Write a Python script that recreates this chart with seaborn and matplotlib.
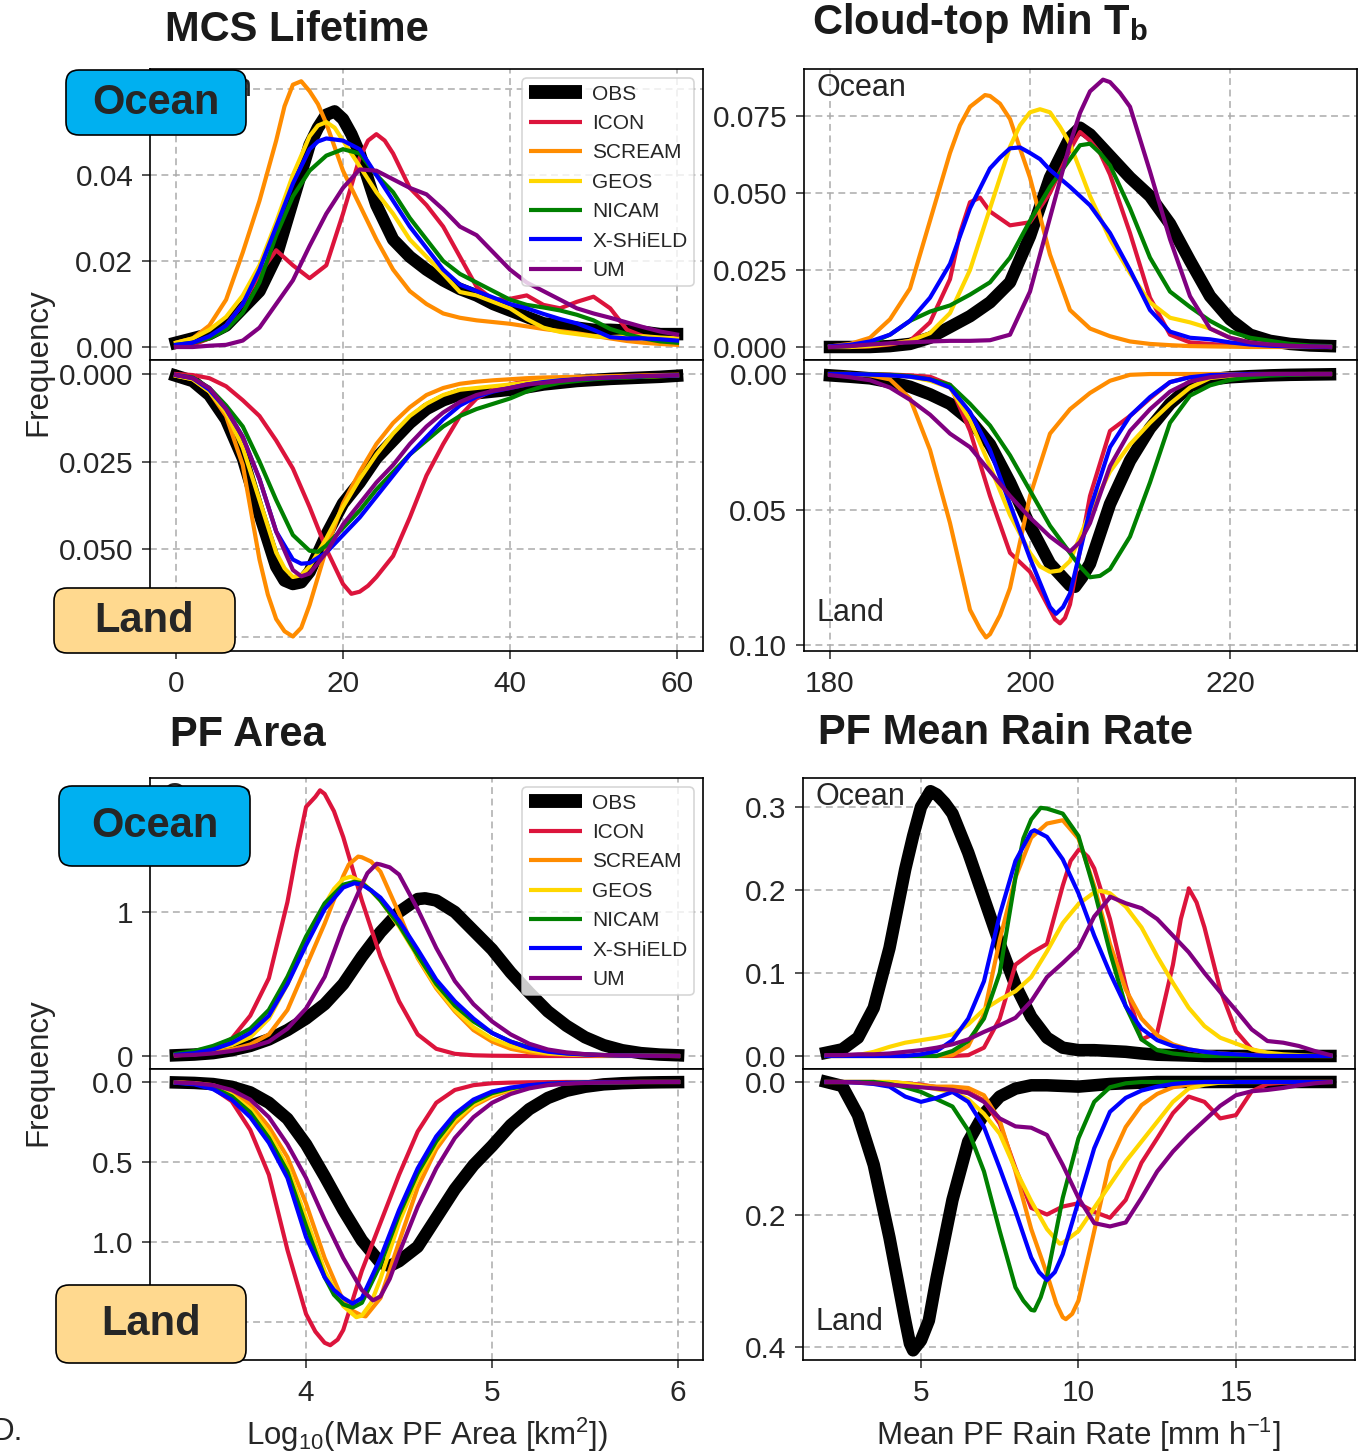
import matplotlib
matplotlib.use("Agg")
import matplotlib.pyplot as plt
from matplotlib.lines import Line2D
from matplotlib.patches import FancyBboxPatch
import numpy as np
import pandas as pd
import seaborn as sns

# ---------------------------------------------------------------- data
MODELS = ["OBS", "ICON", "SCREAM", "GEOS", "NICAM", "X-SHiELD", "UM"]
COLORS = {"OBS": "#000000", "ICON": "#DC143C", "SCREAM": "#FF8C00", "GEOS": "#FFD700",
          "NICAM": "#008000", "X-SHiELD": "#0000FF", "UM": "#800080"}

# MCS lifetime [h]
LIFETIME_X = list(range(0, 61, 2))
LIFETIME_OCEAN = {
    "OBS": [0.001, 0.002, 0.003, 0.005, 0.009, 0.013, 0.021, 0.034, 0.047, 0.054, 0.053, 0.045, 0.033, 0.025, 0.021, 0.018,
            0.0155, 0.0135, 0.012, 0.010, 0.0085, 0.007, 0.0055, 0.005, 0.0045, 0.004, 0.004, 0.0038, 0.0035, 0.003, 0.003],
    "ICON": [0.0, 0.0005, 0.002, 0.005, 0.010, 0.017, 0.0225, 0.019, 0.016, 0.019, 0.031, 0.044, 0.0495, 0.045, 0.037, 0.033,
             0.028, 0.021, 0.014, 0.011, 0.0112, 0.012, 0.0098, 0.009, 0.0105, 0.0117, 0.009, 0.004, 0.0025, 0.002, 0.002],
    "SCREAM": [0.001, 0.002, 0.005, 0.011, 0.022, 0.034, 0.048, 0.061, 0.0595, 0.052, 0.041, 0.033, 0.025, 0.018, 0.013, 0.010,
               0.0078, 0.0068, 0.0062, 0.0058, 0.0054, 0.0048, 0.0042, 0.0037, 0.0032, 0.0026, 0.002, 0.0014, 0.001, 0.0007, 0.0005],
    "GEOS": [0.001, 0.002, 0.004, 0.007, 0.012, 0.019, 0.029, 0.040, 0.049, 0.0523, 0.048, 0.042, 0.036, 0.031, 0.025, 0.021,
             0.017, 0.0128, 0.012, 0.0105, 0.009, 0.0065, 0.0045, 0.0035, 0.003, 0.0025, 0.0023, 0.0025, 0.0025, 0.0022, 0.002],
    "NICAM": [0.0005, 0.001, 0.002, 0.004, 0.008, 0.015, 0.026, 0.035, 0.041, 0.0445, 0.046, 0.045, 0.040, 0.036, 0.030, 0.025,
              0.020, 0.017, 0.015, 0.013, 0.011, 0.0098, 0.0092, 0.0085, 0.0075, 0.0062, 0.0042, 0.003, 0.002, 0.0013, 0.001],
    "X-SHiELD": [0.0005, 0.001, 0.0025, 0.005, 0.010, 0.018, 0.028, 0.038, 0.046, 0.0485, 0.048, 0.046, 0.040, 0.034, 0.028, 0.023,
                 0.018, 0.0145, 0.013, 0.0115, 0.010, 0.009, 0.0077, 0.0065, 0.0055, 0.004, 0.0023, 0.002, 0.002, 0.0018, 0.0015],
    "UM": [0.0, 0.0, 0.0003, 0.0005, 0.0015, 0.0045, 0.010, 0.0155, 0.0235, 0.031, 0.037, 0.0413, 0.041, 0.039, 0.037, 0.0355,
           0.032, 0.028, 0.026, 0.022, 0.018, 0.015, 0.013, 0.011, 0.009, 0.0078, 0.0068, 0.0057, 0.0046, 0.0036, 0.0029],
}
LIFETIME_OCEAN_EXTRA = {"OBS": [(17.0, 0.051), (19.0, 0.0548), (21.0, 0.0495)],
                        "SCREAM": [(13.0, 0.056), (15.0, 0.0618), (17.0, 0.0565)],
                        "ICON": [(23.0, 0.048), (25.0, 0.048)],
                        "GEOS": [(17.0, 0.0515), (19.0, 0.051)],
                        "X-SHiELD": [(17.0, 0.0478)]}
LIFETIME_LAND = {
    "OBS": [0.0005, 0.002, 0.006, 0.013, 0.024, 0.040, 0.055, 0.060, 0.0565, 0.046, 0.037, 0.031, 0.024, 0.019, 0.014, 0.010,
            0.0075, 0.0058, 0.0055, 0.005, 0.0045, 0.0038, 0.003, 0.0025, 0.002, 0.0017, 0.0014, 0.0012, 0.001, 0.0008, 0.0005],
    "ICON": [0.0, 0.0003, 0.0012, 0.0035, 0.0075, 0.012, 0.019, 0.027, 0.038, 0.050, 0.060, 0.0622, 0.058, 0.052, 0.041, 0.029,
             0.020, 0.012, 0.007, 0.0045, 0.003, 0.002, 0.0015, 0.0012, 0.001, 0.0008, 0.0007, 0.0006, 0.0005, 0.0004, 0.0003],
    "SCREAM": [0.0005, 0.0015, 0.005, 0.012, 0.026, 0.053, 0.070, 0.075, 0.066, 0.050, 0.037, 0.028, 0.020, 0.014, 0.0095, 0.006,
               0.004, 0.0028, 0.0022, 0.0018, 0.0015, 0.0012, 0.001, 0.0009, 0.0008, 0.0007, 0.0006, 0.0005, 0.0004, 0.0003, 0.0002],
    "GEOS": [0.0005, 0.0015, 0.005, 0.011, 0.021, 0.036, 0.051, 0.058, 0.055, 0.047, 0.038, 0.030, 0.023, 0.017, 0.012, 0.0085,
             0.006, 0.0045, 0.004, 0.0035, 0.003, 0.0025, 0.002, 0.0018, 0.0015, 0.0012, 0.001, 0.0009, 0.0008, 0.0006, 0.0005],
    "NICAM": [0.0003, 0.001, 0.004, 0.009, 0.015, 0.025, 0.036, 0.046, 0.0505, 0.049, 0.044, 0.039, 0.033, 0.028, 0.023, 0.019,
              0.015, 0.012, 0.010, 0.0085, 0.007, 0.005, 0.0035, 0.0025, 0.002, 0.0015, 0.0012, 0.001, 0.0008, 0.0006, 0.0005],
    "X-SHiELD": [0.0003, 0.0012, 0.0045, 0.010, 0.018, 0.030, 0.045, 0.053, 0.054, 0.051, 0.046, 0.041, 0.035, 0.029, 0.023, 0.018,
                 0.013, 0.009, 0.0065, 0.005, 0.004, 0.003, 0.0023, 0.0018, 0.0015, 0.0012, 0.001, 0.0008, 0.0006, 0.0005, 0.0004],
    "UM": [0.0003, 0.0012, 0.004, 0.010, 0.018, 0.030, 0.045, 0.056, 0.057, 0.051, 0.043, 0.037, 0.031, 0.026, 0.020, 0.015,
           0.011, 0.008, 0.006, 0.0048, 0.004, 0.003, 0.0025, 0.002, 0.0015, 0.0012, 0.001, 0.0008, 0.0006, 0.0005, 0.0004],
}
LIFETIME_LAND_EXTRA = {"OBS": [(13.0, 0.059), (15.0, 0.0595)],
                       "ICON": [(21.0, 0.0628), (23.0, 0.0605)],
                       "SCREAM": [(11.0, 0.063), (13.0, 0.0735), (15.0, 0.0725)],
                       "GEOS": [(13.0, 0.0555), (15.0, 0.0575)],
                       "UM": [(15.0, 0.0578)], "X-SHiELD": [(15.0, 0.0542)], "NICAM": [(17.0, 0.0508)]}

# Cloud-top minimum brightness temperature [K]
TB_X = list(range(180, 231, 2))
TB_OCEAN = {
    "OBS": [0.0, 0.0, 0.0, 0.0003, 0.001, 0.003, 0.0065, 0.010, 0.0145, 0.021, 0.036, 0.055, 0.068, 0.069, 0.062, 0.055,
            0.049, 0.040, 0.028, 0.0165, 0.009, 0.004, 0.002, 0.001, 0.0005, 0.0003],
    "ICON": [0.0, 0.0, 0.0002, 0.0008, 0.002, 0.008, 0.022, 0.047, 0.044, 0.0395, 0.0405, 0.050, 0.064, 0.067, 0.056, 0.037,
             0.016, 0.004, 0.0015, 0.001, 0.0005, 0.0003, 0.0002, 0.0001, 0.0, 0.0],
    "SCREAM": [0.0002, 0.001, 0.003, 0.009, 0.019, 0.041, 0.063, 0.078, 0.0815, 0.074, 0.055, 0.030, 0.012, 0.006, 0.0035, 0.0018,
               0.001, 0.0006, 0.0003, 0.0002, 0.0001, 0.0, 0.0, 0.0, 0.0, 0.0],
    "GEOS": [0.0, 0.0, 0.0003, 0.001, 0.002, 0.0045, 0.011, 0.025, 0.045, 0.065, 0.0762, 0.0762, 0.066, 0.049, 0.035, 0.024,
             0.0145, 0.0095, 0.008, 0.006, 0.003, 0.0015, 0.0008, 0.0004, 0.0002, 0.0],
    "NICAM": [0.0, 0.0003, 0.0012, 0.004, 0.0085, 0.0115, 0.0135, 0.017, 0.021, 0.029, 0.041, 0.052, 0.061, 0.066, 0.059, 0.045,
              0.029, 0.018, 0.013, 0.0085, 0.005, 0.003, 0.002, 0.001, 0.0005, 0.0003],
    "X-SHiELD": [0.0002, 0.0007, 0.0018, 0.004, 0.0085, 0.016, 0.027, 0.045, 0.058, 0.0645, 0.063, 0.0575, 0.052, 0.046, 0.037, 0.025,
                 0.012, 0.005, 0.003, 0.0025, 0.0015, 0.0008, 0.0004, 0.0002, 0.0001, 0.0],
    "UM": [0.0, 0.0003, 0.0008, 0.0012, 0.0015, 0.0018, 0.002, 0.002, 0.0022, 0.004, 0.018, 0.042, 0.066, 0.083, 0.086, 0.078,
           0.057, 0.035, 0.0165, 0.006, 0.003, 0.0015, 0.0008, 0.0004, 0.0002, 0.0001],
}
TB_OCEAN_EXTRA = {"OBS": [(205.0, 0.0712)],
                  "ICON": [(193.0, 0.037), (195.0, 0.0485), (205.0, 0.0698), (207.0, 0.063)],
                  "SCREAM": [(193.0, 0.072), (195.5, 0.0818), (197.0, 0.079)],
                  "GEOS": [(199.0, 0.072), (201.0, 0.0772), (203.0, 0.0715)],
                  "NICAM": [(205.0, 0.0655), (207.0, 0.063)],
                  "X-SHiELD": [(197.0, 0.0615), (199.0, 0.0648), (201.0, 0.061)],
                  "UM": [(205.0, 0.076), (207.3, 0.0868), (209.0, 0.0825)]}
TB_LAND = {
    "OBS": [0.0005, 0.001, 0.0016, 0.003, 0.0047, 0.0075, 0.011, 0.017, 0.026, 0.040, 0.056, 0.070, 0.078, 0.070, 0.048, 0.032,
            0.020, 0.011, 0.0045, 0.002, 0.0012, 0.0008, 0.0005, 0.0003, 0.0002, 0.0001],
    "ICON": [0.0, 0.0, 0.0, 0.0002, 0.0005, 0.001, 0.004, 0.021, 0.045, 0.066, 0.073, 0.087, 0.085, 0.045, 0.021, 0.0155,
             0.009, 0.003, 0.001, 0.0005, 0.0002, 0.0, 0.0, 0.0, 0.0, 0.0],
    "SCREAM": [0.0, 0.0, 0.0005, 0.002, 0.009, 0.028, 0.055, 0.087, 0.096, 0.079, 0.045, 0.022, 0.013, 0.007, 0.0025, 0.0003,
               0.0, 0.0, 0.0, 0.0, 0.0, 0.0, 0.0, 0.0, 0.0, 0.0],
    "GEOS": [0.0, 0.0, 0.0002, 0.0005, 0.001, 0.0025, 0.005, 0.017, 0.034, 0.052, 0.066, 0.073, 0.069, 0.051, 0.036, 0.026,
             0.018, 0.011, 0.005, 0.0015, 0.0007, 0.0003, 0.0001, 0.0001, 0.0, 0.0],
    "NICAM": [0.0, 0.0, 0.0001, 0.0003, 0.0008, 0.002, 0.004, 0.011, 0.019, 0.030, 0.043, 0.056, 0.066, 0.075, 0.072, 0.060,
              0.040, 0.018, 0.008, 0.0042, 0.0022, 0.0012, 0.0006, 0.0003, 0.0001, 0.0],
    "X-SHiELD": [0.0, 0.0, 0.0002, 0.0005, 0.001, 0.002, 0.005, 0.014, 0.028, 0.048, 0.068, 0.086, 0.081, 0.050, 0.027, 0.0155,
                 0.0085, 0.003, 0.0012, 0.0004, 0.0002, 0.0, 0.0, 0.0, 0.0, 0.0],
    "UM": [0.0004, 0.0012, 0.0023, 0.005, 0.0095, 0.015, 0.022, 0.027, 0.036, 0.045, 0.053, 0.060, 0.0655, 0.055, 0.034, 0.021,
           0.013, 0.0065, 0.0028, 0.0012, 0.0005, 0.0002, 0.0, 0.0, 0.0, 0.0],
}
TB_LAND_EXTRA = {"OBS": [(204.5, 0.0785), (205.2, 0.075)],
                 "ICON": [(202.5, 0.0905), (203.0, 0.092), (203.5, 0.090)],
                 "SCREAM": [(195.0, 0.094), (195.6, 0.0972), (197.0, 0.089)],
                 "GEOS": [(201.0, 0.071), (203.0, 0.0725)],
                 "NICAM": [(205.0, 0.071), (207.0, 0.0745)],
                 "X-SHiELD": [(202.6, 0.0885), (203.3, 0.086)],
                 "UM": [(205.0, 0.062)]}

# log10 of max PF area [km2]
AREA_X = [3.3, 3.4, 3.5, 3.6, 3.7, 3.8, 3.9, 4.0, 4.1, 4.2, 4.3, 4.4, 4.5, 4.6, 4.7, 4.8, 4.9, 5.0, 5.1, 5.2,
          5.3, 5.4, 5.5, 5.6, 5.7, 5.8, 5.9, 6.0]
AREA_OCEAN = {
    "OBS": [0.005, 0.01, 0.02, 0.04, 0.07, 0.115, 0.18, 0.26, 0.36, 0.50, 0.69, 0.86, 1.0, 1.09, 1.08, 1.0, 0.87, 0.74, 0.58, 0.44,
            0.31, 0.21, 0.13, 0.075, 0.04, 0.02, 0.01, 0.005],
    "ICON": [0.005, 0.02, 0.05, 0.12, 0.28, 0.54, 1.07, 1.73, 1.82, 1.52, 1.08, 0.69, 0.38, 0.15, 0.05, 0.015, 0.005, 0.002, 0.001, 0.0,
             0.0, 0.0, 0.0, 0.0, 0.0, 0.0, 0.0, 0.0],
    "SCREAM": [0.005, 0.012, 0.025, 0.045, 0.08, 0.15, 0.32, 0.62, 0.92, 1.25, 1.38, 1.28, 0.99, 0.68, 0.47, 0.31, 0.18, 0.10, 0.05, 0.025,
               0.015, 0.01, 0.006, 0.004, 0.003, 0.002, 0.001, 0.0],
    "GEOS": [0.01, 0.025, 0.05, 0.075, 0.13, 0.26, 0.50, 0.80, 1.05, 1.23, 1.21, 1.08, 0.90, 0.69, 0.48, 0.32, 0.20, 0.12, 0.07, 0.04,
             0.02, 0.012, 0.008, 0.005, 0.003, 0.002, 0.001, 0.0],
    "NICAM": [0.015, 0.035, 0.07, 0.12, 0.19, 0.32, 0.55, 0.83, 1.06, 1.19, 1.20, 1.08, 0.91, 0.70, 0.50, 0.35, 0.24, 0.16, 0.10, 0.06,
              0.035, 0.02, 0.012, 0.007, 0.004, 0.002, 0.001, 0.0],
    "X-SHiELD": [0.008, 0.02, 0.045, 0.09, 0.16, 0.28, 0.50, 0.77, 1.02, 1.17, 1.19, 1.10, 0.94, 0.74, 0.53, 0.38, 0.26, 0.16, 0.10, 0.055,
                 0.03, 0.017, 0.01, 0.006, 0.003, 0.002, 0.001, 0.0],
    "UM": [0.003, 0.008, 0.018, 0.035, 0.06, 0.10, 0.19, 0.33, 0.55, 0.90, 1.19, 1.33, 1.26, 1.02, 0.75, 0.52, 0.36, 0.24, 0.15, 0.085,
           0.045, 0.025, 0.013, 0.007, 0.004, 0.002, 0.001, 0.0],
}
AREA_OCEAN_EXTRA = {"ICON": [(3.95, 1.42), (4.05, 1.80), (4.075, 1.845), (4.15, 1.70)],
                    "SCREAM": [(4.23, 1.33), (4.28, 1.385), (4.35, 1.35)],
                    "GEOS": [(4.15, 1.16), (4.24, 1.245)],
                    "NICAM": [(4.26, 1.21), (4.35, 1.15)],
                    "X-SHiELD": [(4.26, 1.20), (4.35, 1.15)],
                    "UM": [(4.33, 1.27), (4.38, 1.335), (4.45, 1.31)],
                    "OBS": [(4.64, 1.095)]}
AREA_LAND = {
    "OBS": [0.003, 0.006, 0.013, 0.03, 0.065, 0.13, 0.23, 0.39, 0.59, 0.80, 0.99, 1.13, 1.12, 1.03, 0.85, 0.67, 0.52, 0.40, 0.27, 0.17,
            0.10, 0.055, 0.03, 0.015, 0.008, 0.004, 0.002, 0.001],
    "ICON": [0.003, 0.01, 0.04, 0.12, 0.30, 0.58, 1.05, 1.45, 1.63, 1.55, 1.18, 0.88, 0.58, 0.31, 0.13, 0.05, 0.02, 0.008, 0.004, 0.002,
             0.001, 0.0, 0.0, 0.0, 0.0, 0.0, 0.0, 0.0],
    "SCREAM": [0.002, 0.007, 0.02, 0.06, 0.14, 0.28, 0.47, 0.76, 1.10, 1.37, 1.46, 1.35, 1.0, 0.66, 0.42, 0.26, 0.15, 0.09, 0.05, 0.028,
               0.015, 0.008, 0.004, 0.002, 0.001, 0.0, 0.0, 0.0],
    "GEOS": [0.003, 0.01, 0.03, 0.08, 0.17, 0.32, 0.53, 0.85, 1.18, 1.40, 1.46, 1.23, 0.88, 0.60, 0.39, 0.24, 0.14, 0.08, 0.045, 0.025,
             0.013, 0.007, 0.004, 0.002, 0.001, 0.0, 0.0, 0.0],
    "NICAM": [0.004, 0.012, 0.035, 0.09, 0.19, 0.35, 0.56, 0.90, 1.22, 1.39, 1.38, 1.14, 0.83, 0.57, 0.37, 0.22, 0.125, 0.07, 0.04, 0.022,
              0.012, 0.006, 0.003, 0.002, 0.001, 0.0, 0.0, 0.0],
    "X-SHiELD": [0.005, 0.015, 0.045, 0.11, 0.22, 0.38, 0.60, 0.97, 1.22, 1.35, 1.35, 1.10, 0.80, 0.54, 0.34, 0.20, 0.11, 0.06, 0.035, 0.02,
                 0.011, 0.006, 0.003, 0.002, 0.001, 0.0, 0.0, 0.0],
    "UM": [0.003, 0.008, 0.02, 0.05, 0.11, 0.22, 0.39, 0.60, 0.86, 1.10, 1.30, 1.34, 1.07, 0.78, 0.54, 0.35, 0.22, 0.13, 0.075, 0.04,
           0.02, 0.011, 0.006, 0.003, 0.002, 0.001, 0.0, 0.0],
}
AREA_LAND_EXTRA = {"ICON": [(4.05, 1.56), (4.13, 1.645), (4.17, 1.61)],
                   "GEOS": [(4.27, 1.47), (4.35, 1.38)],
                   "SCREAM": [(4.25, 1.43), (4.32, 1.465)],
                   "NICAM": [(4.15, 1.33), (4.25, 1.41)],
                   "X-SHiELD": [(4.15, 1.30), (4.25, 1.385)],
                   "UM": [(4.36, 1.365), (4.45, 1.23)],
                   "OBS": [(4.45, 1.15)]}

# mean PF rain rate [mm/h]
RAIN_X = [2.0, 2.5, 3.0, 3.5, 4.0, 4.5, 5.0, 5.5, 6.0, 6.5, 7.0, 7.5, 8.0, 8.5, 9.0, 9.5, 10.0, 10.5, 11.0, 11.5,
          12.0, 12.5, 13.0, 13.5, 14.0, 14.5, 15.0, 15.5, 16.0, 16.5, 17.0, 17.5, 18.0]
RAIN_OCEAN = {
    "OBS": [0.004, 0.008, 0.022, 0.058, 0.13, 0.225, 0.30, 0.315, 0.292, 0.245, 0.19, 0.135, 0.085, 0.047, 0.022, 0.01, 0.007,
            0.007, 0.006, 0.005, 0.003, 0.0015, 0.001, 0.0005, 0.0, 0.0, 0.0, 0.0, 0.0, 0.0, 0.0, 0.0, 0.0],
    "ICON": [0.0, 0.0, 0.0, 0.0, 0.0, 0.0, 0.0, 0.0, 0.0, 0.001, 0.01, 0.045, 0.11, 0.124, 0.135, 0.205, 0.248, 0.226, 0.165,
             0.085, 0.02, 0.028, 0.11, 0.20, 0.155, 0.08, 0.03, 0.008, 0.002, 0.0, 0.0, 0.0, 0.0],
    "SCREAM": [0.0, 0.0, 0.0, 0.0, 0.0, 0.0, 0.0, 0.0, 0.001, 0.012, 0.05, 0.14, 0.215, 0.263, 0.28, 0.284, 0.262, 0.205, 0.135,
               0.08, 0.045, 0.025, 0.014, 0.008, 0.005, 0.003, 0.002, 0.001, 0.0, 0.0, 0.0, 0.0, 0.0],
    "GEOS": [0.0, 0.0, 0.001, 0.005, 0.011, 0.016, 0.019, 0.022, 0.026, 0.038, 0.056, 0.068, 0.078, 0.095, 0.126, 0.16, 0.183,
             0.197, 0.196, 0.18, 0.155, 0.12, 0.088, 0.058, 0.036, 0.022, 0.015, 0.008, 0.004, 0.002, 0.001, 0.0, 0.0],
    "NICAM": [0.0, 0.0, 0.0, 0.0, 0.0, 0.0, 0.0, 0.0, 0.006, 0.018, 0.045, 0.10, 0.215, 0.285, 0.298, 0.292, 0.265, 0.20, 0.125,
              0.06, 0.02, 0.007, 0.003, 0.001, 0.0, 0.0, 0.0, 0.0, 0.0, 0.0, 0.0, 0.0, 0.0],
    "X-SHiELD": [0.0, 0.0, 0.0, 0.0, 0.0, 0.0, 0.002, 0.006, 0.019, 0.045, 0.09, 0.17, 0.235, 0.27, 0.264, 0.237, 0.196, 0.145,
                 0.10, 0.06, 0.033, 0.019, 0.012, 0.008, 0.005, 0.003, 0.002, 0.001, 0.0, 0.0, 0.0, 0.0, 0.0],
    "UM": [0.001, 0.001, 0.002, 0.002, 0.003, 0.005, 0.007, 0.01, 0.014, 0.02, 0.029, 0.037, 0.046, 0.066, 0.095, 0.112, 0.13,
           0.168, 0.191, 0.184, 0.178, 0.165, 0.145, 0.125, 0.10, 0.077, 0.055, 0.032, 0.018, 0.016, 0.012, 0.006, 0.001],
}
RAIN_OCEAN_EXTRA = {"OBS": [(4.75, 0.265), (5.3, 0.319), (5.75, 0.305)],
                    "NICAM": [(8.25, 0.262), (8.8, 0.299)],
                    "X-SHiELD": [(8.6, 0.272)],
                    "ICON": [(9.75, 0.235), (10.05, 0.249), (10.3, 0.24), (13.25, 0.165), (13.5, 0.202), (13.75, 0.185)],
                    "GEOS": [(10.7, 0.199)], "UM": [(11.0, 0.192)]}
RAIN_LAND = {
    "OBS": [0.0, 0.006, 0.05, 0.125, 0.235, 0.36, 0.39, 0.295, 0.178, 0.09, 0.048, 0.022, 0.01, 0.005, 0.005, 0.006, 0.007,
            0.005, 0.003, 0.002, 0.001, 0.0, 0.0, 0.0, 0.0, 0.0, 0.0, 0.0, 0.0, 0.0, 0.0, 0.0, 0.0],
    "ICON": [0.0, 0.0, 0.0, 0.0, 0.001, 0.002, 0.004, 0.008, 0.012, 0.015, 0.028, 0.063, 0.13, 0.19, 0.2, 0.188, 0.183, 0.196,
             0.205, 0.178, 0.122, 0.085, 0.047, 0.022, 0.03, 0.055, 0.05, 0.014, 0.003, 0.001, 0.0, 0.0, 0.0],
    "SCREAM": [0.0, 0.0, 0.0, 0.0, 0.0, 0.002, 0.005, 0.007, 0.007, 0.009, 0.02, 0.058, 0.135, 0.222, 0.29, 0.355, 0.33, 0.225,
               0.12, 0.068, 0.035, 0.018, 0.008, 0.004, 0.002, 0.001, 0.0, 0.0, 0.0, 0.0, 0.0, 0.0, 0.0],
    "GEOS": [0.0, 0.0, 0.0, 0.0, 0.0, 0.002, 0.006, 0.011, 0.015, 0.026, 0.048, 0.078, 0.132, 0.18, 0.222, 0.243, 0.225, 0.19,
             0.155, 0.12, 0.09, 0.06, 0.03, 0.01, 0.004, 0.001, 0.0, 0.0, 0.0, 0.0, 0.0, 0.0, 0.0],
    "NICAM": [0.0, 0.0, 0.0, 0.0, 0.003, 0.008, 0.015, 0.026, 0.037, 0.073, 0.135, 0.225, 0.31, 0.344, 0.295, 0.175, 0.085, 0.03,
              0.008, 0.002, 0.0, 0.0, 0.0, 0.0, 0.0, 0.0, 0.0, 0.0, 0.0, 0.0, 0.0, 0.0, 0.0],
    "X-SHiELD": [0.0, 0.0, 0.001, 0.003, 0.007, 0.022, 0.03, 0.024, 0.015, 0.03, 0.068, 0.13, 0.195, 0.265, 0.299, 0.26, 0.18,
                 0.10, 0.045, 0.024, 0.013, 0.007, 0.003, 0.001, 0.0, 0.0, 0.0, 0.0, 0.0, 0.0, 0.0, 0.0, 0.0],
    "UM": [0.0, 0.0, 0.001, 0.002, 0.004, 0.006, 0.008, 0.01, 0.012, 0.017, 0.03, 0.055, 0.067, 0.069, 0.08, 0.125, 0.175, 0.213,
           0.218, 0.212, 0.175, 0.135, 0.105, 0.08, 0.058, 0.036, 0.02, 0.014, 0.012, 0.009, 0.005, 0.002, 0.0],
}
RAIN_LAND_EXTRA = {"OBS": [(4.65, 0.395), (4.75, 0.405), (5.25, 0.36)],
                   "NICAM": [(8.25, 0.33), (8.6, 0.345), (8.8, 0.325)],
                   "SCREAM": [(9.3, 0.335), (9.6, 0.358), (9.8, 0.35)],
                   "X-SHiELD": [(8.75, 0.287), (9.25, 0.287)],
                   "GEOS": [(9.4, 0.244)]}

TITLES = ["MCS Lifetime", r"Cloud-top Min T$_\mathbf{b}$", "PF Area", "PF Mean Rain Rate"]
XLABELS = ["", "", r"Log$_{10}$(Max PF Area [km$^2$])", r"Mean PF Rain Rate [mm h$^{-1}$]"]

# ---------------------------------------------------------------- long table
panels = [
    ("lifetime", LIFETIME_X, LIFETIME_OCEAN, LIFETIME_OCEAN_EXTRA, LIFETIME_LAND, LIFETIME_LAND_EXTRA),
    ("tb", TB_X, TB_OCEAN, TB_OCEAN_EXTRA, TB_LAND, TB_LAND_EXTRA),
    ("area", AREA_X, AREA_OCEAN, AREA_OCEAN_EXTRA, AREA_LAND, AREA_LAND_EXTRA),
    ("rain", RAIN_X, RAIN_OCEAN, RAIN_OCEAN_EXTRA, RAIN_LAND, RAIN_LAND_EXTRA),
]
frames = []
for pname, xs, ocean, ocean_ex, land, land_ex in panels:
    for region, table, extra in (("Ocean", ocean, ocean_ex), ("Land", land, land_ex)):
        for m in MODELS:
            px = [p[0] for p in extra.get(m, [])]
            py = [p[1] for p in extra.get(m, [])]
            frames.append(pd.DataFrame({"panel": pname, "region": region, "model": m,
                                        "x": list(xs) + px, "y": list(table[m]) + py}))
df = pd.concat(frames, ignore_index=True).sort_values(["panel", "region", "model", "x"])

# ---------------------------------------------------------------- style
sns.set_style("ticks")
plt.rcParams["font.family"] = ["Liberation Sans", "DejaVu Sans"]
plt.rcParams["mathtext.fontset"] = "custom"
plt.rcParams["mathtext.rm"] = "Liberation Sans"
plt.rcParams["mathtext.it"] = "Liberation Sans:italic"
plt.rcParams["mathtext.bf"] = "Liberation Sans:bold"

W, H = 1361, 1452
fig = plt.figure(figsize=(W / 100, H / 100), dpi=100)


def rect(l, t, r, b):
    return [l / W, 1 - b / H, (r - l) / W, (b - t) / H]


layout = {
    "lifetime": dict(cols=(150, 703), rows=(69, 360, 651),
                     xlim=(-3.11, 63.11), xticks=[0, 20, 40, 60],
                     oylim=(-0.00302, 0.06465), oyticks=[0, 0.02, 0.04, 0.06], ofmt="{:.2f}",
                     lylim=(0.07914, -0.004), lyticks=[0, 0.025, 0.05, 0.075], lfmt="{:.3f}"),
    "tb": dict(cols=(804, 1357), rows=(69, 360, 651),
               xlim=(177.4, 232.7), xticks=[180, 200, 220],
               oylim=(-0.00422, 0.09026), oyticks=[0, 0.025, 0.05, 0.075], ofmt="{:.3f}",
               lylim=(0.10221, -0.00517), lyticks=[0, 0.05, 0.1], lfmt="{:.2f}"),
    "area": dict(cols=(150, 703), rows=(778, 1069, 1360),
                 xlim=(3.161, 6.134), xticks=[4, 5, 6],
                 oylim=(-0.0903, 1.9306), oyticks=[0, 1], ofmt="{:.0f}",
                 lylim=(1.7375, -0.081), lyticks=[0, 0.5, 1.0, 1.5], lfmt="{:.1f}"),
    "rain": dict(cols=(803, 1355), rows=(778, 1069, 1360),
                 xlim=(1.254, 18.78), xticks=[5, 10, 15],
                 oylim=(-0.0157, 0.3349), oyticks=[0, 0.1, 0.2, 0.3], ofmt="{:.1f}",
                 lylim=(0.4196, -0.0196), lyticks=[0, 0.2, 0.4], lfmt="{:.1f}"),
}

TICK_FS = 21.5
LW = {m: (9.0 if m == "OBS" else 3.0) for m in MODELS}

for i, (pname, xs, ocean, ocean_ex, land, land_ex) in enumerate(panels):
    L = layout[pname]
    l, r = L["cols"]
    t, mid, b = L["rows"]
    ax_o = fig.add_axes(rect(l, t, r, mid))
    ax_l = fig.add_axes(rect(l, mid, r, b))
    for ax, region in ((ax_o, "Ocean"), (ax_l, "Land")):
        sub = df[(df.panel == pname) & (df.region == region)]
        for m in MODELS:
            sns.lineplot(data=sub[sub.model == m], x="x", y="y", color=COLORS[m],
                         linewidth=LW[m], estimator=None, sort=True, legend=False, ax=ax,
                         solid_capstyle="projecting", solid_joinstyle="round")
        ax.set_xlim(*L["xlim"])
        ax.set_xticks(L["xticks"])
        ax.set_xlabel("")
        ax.set_ylabel("")
        ax.set_axisbelow(True)
        ax.grid(True, linestyle=(0, (4.5, 3)), color="#ababab", linewidth=1.1)
        for s in ax.spines.values():
            s.set_linewidth(1.2)
            s.set_color("black")
        ax.tick_params(axis="y", labelsize=TICK_FS, length=6, width=1.1, pad=6)
        ax.tick_params(axis="x", labelsize=TICK_FS, length=6, width=1.1, pad=8)

    ax_o.set_ylim(*L["oylim"])
    ax_o.set_yticks(L["oyticks"])
    ax_o.set_yticklabels([L["ofmt"].format(v) for v in L["oyticks"]])
    ax_o.tick_params(axis="x", bottom=False, labelbottom=False)
    ax_l.set_ylim(*L["lylim"])
    ax_l.set_yticks(L["lyticks"])
    ax_l.set_yticklabels([L["lfmt"].format(v) for v in L["lyticks"]])
    ax_l.set_xticklabels([str(v) for v in L["xticks"]])

    ax_o.text(0.022, 0.935, "Ocean", transform=ax_o.transAxes, fontsize=22, va="center", ha="left")
    ax_l.text(0.022, 0.13, "Land", transform=ax_l.transAxes, fontsize=22, va="center", ha="left")

    if pname in ("lifetime", "area"):
        handles = [Line2D([], [], color=COLORS[m], linewidth=(10 if m == "OBS" else 3.0),
                          solid_capstyle="butt") for m in MODELS]
        leg = ax_o.legend(handles, MODELS, loc="upper right", fontsize=15, frameon=True,
                          framealpha=0.8, edgecolor="#cccccc", fancybox=True,
                          handlelength=2.55, labelspacing=0.5, borderpad=0.3,
                          handletextpad=0.5, borderaxespad=0.45)
        leg.get_frame().set_linewidth(1.2)

# ---------------------------------------------------------------- titles & labels
TITLE_KW = dict(fontsize=30, fontweight="bold", ha="left", va="center", color="#1a1a1a")
fig.text(165 / W, 1 - 30 / H, TITLES[0], **TITLE_KW)
fig.text(812 / W, 1 - 23 / H, TITLES[1], **TITLE_KW)
fig.text(170 / W, 1 - 735 / H, TITLES[2], **TITLE_KW)
fig.text(818 / W, 1 - 733 / H, TITLES[3], **TITLE_KW)

fig.text(38 / W, 1 - 362 / H, "Frequency", rotation=90, fontsize=22.5, ha="center", va="center")
fig.text(38 / W, 1 - 1072 / H, "Frequency", rotation=90, fontsize=22.5, ha="center", va="center")
fig.text(427 / W, 1 - 1435 / H, XLABELS[2], fontsize=22.5, ha="center", va="center")
fig.text(1078 / W, 1 - 1435 / H, XLABELS[3], fontsize=22.5, ha="center", va="center")
fig.text(-9 / W, 1 - 1432 / H, "D.", fontsize=22.5, ha="left", va="center")

# ---------------------------------------------------------------- region badges
badges = [
    ("Ocean", (66, 70, 246, 135), "#00B0F0"),
    ("Land", (54, 588, 235, 653), "#FFD98F"),
    ("Ocean", (59, 786, 250, 866), "#00B0F0"),
    ("Land", (56, 1285, 246, 1363), "#FFD98F"),
]
for label, (x0, y0, x1, y1), fc in badges:
    patch = FancyBboxPatch((x0 / 100, (H - y1) / 100), (x1 - x0) / 100, (y1 - y0) / 100,
                           boxstyle="round,pad=0,rounding_size=0.13",
                           transform=fig.dpi_scale_trans, facecolor=fc, edgecolor="black",
                           linewidth=1.2, zorder=20)
    fig.add_artist(patch)
    fig.text((x0 + x1) / 2 / W, 1 - (y0 + y1) / 2 / H, label, fontsize=30, fontweight="bold",
             ha="center", va="center", zorder=21)

fig.savefig("out.png", dpi=100)
